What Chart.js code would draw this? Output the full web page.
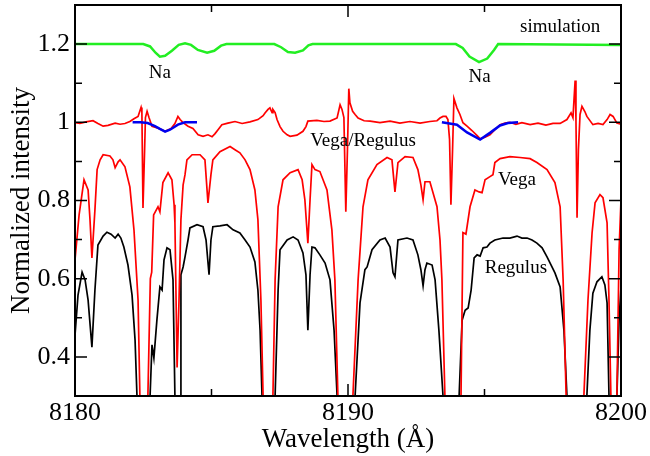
<!DOCTYPE html>
<html>
<head>
<meta charset="utf-8">
<script src="https://cdn.jsdelivr.net/npm/chart.js@4.4.1/dist/chart.umd.min.js"></script>
<style>
  html, body { margin: 0; padding: 0; background: #fff; }
  #wrap { width: 650px; height: 456px; }
</style>
</head>
<body>
<div id="wrap"><canvas id="spectrum"></canvas></div>
<script>
// simulation (green)
const simWl = [8180, 8182.5, 8182.75, 8182.95, 8183.11, 8183.3, 8183.55, 8183.8, 8184.03, 8184.25, 8184.5, 8184.84, 8185.1, 8185.35, 8185.55,
  8187.3, 8187.55, 8187.8, 8188.06, 8188.35, 8188.55, 8188.7, 8193.95, 8194.2, 8194.45, 8194.8, 8195.1, 8195.35, 8195.5, 8200];
const simI = [1.2, 1.2, 1.194, 1.178, 1.168, 1.17, 1.183, 1.198, 1.202, 1.198, 1.185, 1.178, 1.183, 1.196, 1.2,
  1.2, 1.192, 1.18, 1.178, 1.184, 1.197, 1.2, 1.2, 1.19, 1.168, 1.154, 1.163, 1.185, 1.2, 1.198];

// Vega/Regulus ratio (red, top)
const ratioWl = [8180, 8180.18, 8180.4, 8180.66, 8180.84, 8181.03, 8181.21, 8181.47, 8181.65, 8181.83, 8182.01, 8182.16, 8182.31, 8182.42, 8182.45, 8182.49, 8182.55, 8182.58, 8182.64, 8182.71, 8182.82, 8183.04, 8183.3, 8183.52, 8183.66, 8183.77, 8183.85, 8183.96, 8184.14, 8184.32, 8184.51, 8184.69, 8184.87, 8185.02, 8185.13, 8185.24, 8185.38, 8185.6, 8185.86, 8186.12, 8186.41, 8186.7, 8186.89, 8186.96, 8187.07, 8187.14, 8187.22, 8187.25, 8187.33, 8187.4, 8187.51, 8187.62, 8187.77, 8187.88, 8188.13, 8188.35, 8188.46, 8188.53, 8188.86, 8189.12, 8189.34, 8189.6, 8189.71, 8189.78, 8189.85, 8189.92, 8189.98, 8190.03, 8190.07, 8190.17, 8190.26, 8190.37, 8190.59, 8190.81, 8191.17, 8191.54, 8191.9, 8192.27, 8192.64, 8193, 8193.26, 8193.37, 8193.48, 8193.59, 8193.66, 8193.72, 8193.77, 8193.83, 8193.88, 8193.99, 8194.1, 8194.21, 8194.36, 8194.54, 8194.73, 8194.84, 8195.02, 8195.2, 8195.38, 8195.57, 8195.75, 8195.93, 8196.15, 8196.37, 8196.67, 8196.96, 8197.25, 8197.51, 8197.77, 8198.02, 8198.17, 8198.24, 8198.32, 8198.35, 8198.39, 8198.44, 8198.5, 8198.57, 8198.68, 8198.75, 8198.97, 8199.16, 8199.34, 8199.49, 8199.6, 8199.71, 8199.85, 8200];
const ratioI = [0.999, 0.997, 1.001, 1.004, 0.997, 0.99, 0.992, 0.998, 0.995, 0.997, 1.002, 1.009, 1.015, 1.038, 1.027, 0.781, 0.93, 1.012, 1.028, 1.012, 0.99, 0.985, 0.977, 0.984, 0.997, 1.015, 1.007, 0.999, 0.99, 0.984, 0.968, 0.964, 0.968, 0.963, 0.971, 0.981, 0.994, 0.998, 1.002, 0.997, 1.001, 1.007, 1.017, 1.024, 1.033, 1.037, 1.025, 1.033, 1.025, 1.007, 0.989, 0.977, 0.968, 0.964, 0.967, 0.977, 0.989, 1.003, 1.005, 1.002, 1.003, 1.011, 1.045, 1.033, 1.012, 0.771, 0.93, 1.086, 1.05, 1.028, 1.02, 1.011, 1.004, 1.003, 0.999, 1.003, 0.998, 1.002, 0.998, 1.002, 1.004, 1.011, 1.015, 1.015, 1.007, 0.956, 0.789, 0.93, 1.061, 1.037, 1.02, 0.999, 0.99, 0.979, 0.966, 0.958, 0.962, 0.968, 0.981, 0.994, 0.998, 1.0, 0.995, 0.999, 0.994, 0.998, 0.993, 0.997, 0.997, 1.007, 1.024, 1.012, 1.107, 1.007, 0.756, 0.93, 1.02, 1.041, 1.027, 1.015, 0.994, 0.997, 0.994, 1.007, 1.02, 1.015, 0.998, 0.995];

// Na fits (blue)
const fit1Wl = [8182.11, 8182.4, 8182.66, 8182.93, 8183.11, 8183.3, 8183.48, 8183.77, 8184.03, 8184.47];
const fit1I = [1.0, 1.0, 0.998, 0.99, 0.983, 0.976, 0.981, 0.994, 1.0, 1.0];
const fit2Wl = [8193.44, 8193.99, 8194.36, 8194.84, 8195.2, 8195.57, 8195.86, 8196.23];
const fit2I = [1.0, 0.994, 0.974, 0.956, 0.973, 0.992, 0.998, 1.0];

// Vega (red)
const vegaWl = [8180, 8180.15, 8180.33, 8180.48, 8180.55, 8180.62, 8180.73, 8180.81, 8180.92, 8181.03, 8181.28, 8181.39, 8181.47, 8181.58, 8181.65, 8181.83, 8182.01, 8182.16, 8182.31, 8182.38, 8182.5, 8182.67, 8182.76, 8182.81, 8182.88, 8183.04, 8183.11, 8183.22, 8183.41, 8183.55, 8183.63, 8183.66, 8183.74, 8183.81, 8183.88, 8183.96, 8184.03, 8184.1, 8184.29, 8184.58, 8184.76, 8184.87, 8184.98, 8185.05, 8185.31, 8185.68, 8185.86, 8186.04, 8186.23, 8186.41, 8186.59, 8186.7, 8186.81, 8186.89, 8187.07, 8187.25, 8187.33, 8187.44, 8187.62, 8187.88, 8188.17, 8188.32, 8188.42, 8188.53, 8188.61, 8188.68, 8188.79, 8188.97, 8189.23, 8189.41, 8189.52, 8189.63, 8189.93, 8190.18, 8190.37, 8190.55, 8190.73, 8191.06, 8191.43, 8191.61, 8191.72, 8191.83, 8192.09, 8192.38, 8192.56, 8192.67, 8192.75, 8192.82, 8193, 8193.26, 8193.37, 8193.44, 8193.55, 8193.81, 8194.14, 8194.21, 8194.32, 8194.47, 8194.65, 8194.8, 8194.91, 8195.02, 8195.2, 8195.31, 8195.38, 8195.57, 8195.93, 8196.3, 8196.67, 8196.92, 8197.29, 8197.58, 8197.77, 8197.88, 8197.99, 8198.32, 8198.64, 8198.79, 8198.94, 8199.05, 8199.23, 8199.34, 8199.49, 8199.56, 8199.63, 8199.74, 8199.85, 8199.93, 8200];
const vegaI = [0.648, 0.763, 0.853, 0.827, 0.75, 0.653, 0.776, 0.879, 0.904, 0.917, 0.914, 0.904, 0.884, 0.899, 0.904, 0.886, 0.835, 0.725, 0.545, 0.29, 0.15, 0.3, 0.6, 0.617, 0.763, 0.784, 0.771, 0.846, 0.871, 0.853, 0.789, 0.743, 0.373, 0.545, 0.751, 0.84, 0.866, 0.904, 0.917, 0.917, 0.904, 0.794, 0.866, 0.904, 0.925, 0.938, 0.93, 0.922, 0.904, 0.879, 0.827, 0.751, 0.545, 0.3, 0.15, 0.3, 0.597, 0.784, 0.853, 0.871, 0.879, 0.853, 0.802, 0.691, 0.802, 0.892, 0.879, 0.874, 0.827, 0.725, 0.597, 0.3, 0.15, 0.3, 0.597, 0.784, 0.853, 0.892, 0.91, 0.904, 0.822, 0.897, 0.912, 0.91, 0.879, 0.84, 0.802, 0.848, 0.848, 0.784, 0.699, 0.597, 0.3, 0.15, 0.3, 0.718, 0.714, 0.784, 0.827, 0.822, 0.82, 0.853, 0.861, 0.866, 0.897, 0.907, 0.912, 0.91, 0.907, 0.897, 0.879, 0.846, 0.784, 0.597, 0.3, 0.15, 0.3, 0.545, 0.717, 0.794, 0.815, 0.807, 0.743, 0.545, 0.3, 0.15, 0.3, 0.674, 0.802];

// Regulus (black)
const regWl = [8180, 8180.11, 8180.26, 8180.37, 8180.48, 8180.62, 8180.73, 8180.84, 8181.03, 8181.17, 8181.32, 8181.47, 8181.58, 8181.68, 8181.79, 8181.94, 8182.09, 8182.2, 8182.27, 8182.5, 8182.75, 8182.82, 8182.89, 8183, 8183.11, 8183.19, 8183.26, 8183.37, 8183.48, 8183.59, 8183.66, 8183.75, 8183.85, 8183.88, 8183.96, 8184.03, 8184.14, 8184.21, 8184.47, 8184.69, 8184.8, 8184.91, 8184.98, 8185.05, 8185.31, 8185.57, 8185.79, 8186.04, 8186.23, 8186.41, 8186.59, 8186.7, 8186.78, 8186.85, 8187.07, 8187.33, 8187.44, 8187.51, 8187.77, 8187.99, 8188.17, 8188.35, 8188.46, 8188.53, 8188.61, 8188.68, 8188.79, 8188.97, 8189.16, 8189.34, 8189.49, 8189.6, 8189.93, 8190.26, 8190.44, 8190.62, 8190.7, 8190.88, 8191.17, 8191.36, 8191.54, 8191.65, 8191.72, 8191.83, 8192.16, 8192.38, 8192.56, 8192.67, 8192.75, 8192.82, 8192.89, 8193.08, 8193.19, 8193.33, 8193.48, 8193.77, 8194.07, 8194.18, 8194.29, 8194.4, 8194.51, 8194.62, 8194.73, 8194.84, 8194.95, 8195.09, 8195.2, 8195.38, 8195.68, 8195.93, 8196.19, 8196.37, 8196.56, 8196.74, 8196.92, 8197.11, 8197.29, 8197.44, 8197.58, 8197.77, 8197.91, 8198.02, 8198.39, 8198.75, 8198.86, 8198.97, 8199.12, 8199.3, 8199.41, 8199.49, 8199.56, 8199.7, 8199.85, 8199.93, 8200];
const regI = [0.455, 0.558, 0.617, 0.597, 0.545, 0.425, 0.571, 0.686, 0.709, 0.719, 0.714, 0.704, 0.714, 0.704, 0.681, 0.635, 0.558, 0.443, 0.3, 0.15, 0.3, 0.431, 0.397, 0.494, 0.579, 0.571, 0.648, 0.679, 0.674, 0.597, 0.3, 0.15, 0.3, 0.61, 0.63, 0.656, 0.699, 0.73, 0.738, 0.733, 0.699, 0.61, 0.699, 0.733, 0.735, 0.738, 0.725, 0.717, 0.699, 0.681, 0.643, 0.571, 0.468, 0.3, 0.15, 0.3, 0.571, 0.674, 0.699, 0.707, 0.699, 0.666, 0.61, 0.468, 0.61, 0.681, 0.679, 0.661, 0.64, 0.597, 0.468, 0.3, 0.15, 0.3, 0.538, 0.623, 0.63, 0.674, 0.699, 0.704, 0.681, 0.615, 0.605, 0.699, 0.704, 0.699, 0.661, 0.623, 0.582, 0.623, 0.64, 0.635, 0.597, 0.468, 0.3, 0.15, 0.3, 0.494, 0.519, 0.525, 0.571, 0.653, 0.661, 0.658, 0.679, 0.681, 0.691, 0.699, 0.704, 0.704, 0.709, 0.704, 0.704, 0.699, 0.691, 0.679, 0.656, 0.635, 0.615, 0.579, 0.468, 0.3, 0.15, 0.3, 0.468, 0.563, 0.592, 0.605, 0.584, 0.538, 0.3, 0.15, 0.3, 0.494, 0.579];

// ticks
const xMajor = [8180, 8190, 8200];
const xMinor = [8185, 8195];
const yMajor = [0.4, 0.6, 0.8, 1, 1.2];
const yMinor = [0.5, 0.7, 0.9, 1.1];

// text notes on the plot
const noteText = ['simulation', 'Na', 'Na', 'Vega/Regulus', 'Vega', 'Regulus'];
const noteX = [8197.77, 8183.11, 8194.82, 8190.55, 8196.19, 8196.15];
const noteY = [1.243, 1.125, 1.115, 0.953, 0.853, 0.628];

const serif = 'Liberation Serif';

function pts(wl, vals) {
    return wl.map((w, i) => ({x: w, y: vals[i]}));
}

// frame, inward ticks on all sides, and the notes
const frameTicks = {
    id: 'frameTicks',
    afterDatasetsDraw(chart) {
        const {ctx, chartArea: a} = chart;
        const x = chart.scales.x, y = chart.scales.y;
        ctx.save();
        ctx.strokeStyle = '#000';
        ctx.lineWidth = 1.5;
        ctx.beginPath();
        const xt = (v, len) => {
            const p = x.getPixelForValue(v);
            ctx.moveTo(p, a.bottom); ctx.lineTo(p, a.bottom - len);
            ctx.moveTo(p, a.top); ctx.lineTo(p, a.top + len);
        };
        const yt = (v, len) => {
            const p = y.getPixelForValue(v);
            ctx.moveTo(a.left, p); ctx.lineTo(a.left + len, p);
            ctx.moveTo(a.right, p); ctx.lineTo(a.right - len, p);
        };
        xMajor.forEach(v => xt(v, 12));
        xMinor.forEach(v => xt(v, 7));
        yMajor.forEach(v => yt(v, 12));
        yMinor.forEach(v => yt(v, 7));
        ctx.stroke();
        ctx.lineWidth = 2;
        ctx.strokeRect(a.left, a.top, a.right - a.left, a.bottom - a.top);

        ctx.fillStyle = '#000';
        ctx.font = '19px "' + serif + '"';
        ctx.textAlign = 'center';
        ctx.textBaseline = 'middle';
        noteText.forEach((t, i) => {
            ctx.fillText(t, x.getPixelForValue(noteX[i]), y.getPixelForValue(noteY[i]));
        });
        ctx.restore();
    }
};

const ctx = document.getElementById('spectrum').getContext('2d');

new Chart(ctx, {
    type: 'line',
    data: {
        datasets: [
            {label: 'simulation', data: pts(simWl, simI), borderColor: '#22ee22', borderWidth: 2.5, order: 0},
            {label: 'Na fit 1', data: pts(fit1Wl, fit1I), borderColor: '#0000ee', borderWidth: 2.5, order: 1},
            {label: 'Na fit 2', data: pts(fit2Wl, fit2I), borderColor: '#0000ee', borderWidth: 2.5, order: 1},
            {label: 'Vega/Regulus', data: pts(ratioWl, ratioI), borderColor: '#ff0000', borderWidth: 1.7, order: 2},
            {label: 'Vega', data: pts(vegaWl, vegaI), borderColor: '#ff0000', borderWidth: 1.7, order: 3},
            {label: 'Regulus', data: pts(regWl, regI), borderColor: '#000000', borderWidth: 1.7, order: 4}
        ]
    },
    options: {
        responsive: true,
        maintainAspectRatio: false,
        animation: false,
        devicePixelRatio: 1,
        layout: {padding: {left: 0, right: 29, top: 5, bottom: 0}},
        elements: {point: {radius: 0}, line: {tension: 0}},
        scales: {
            x: {
                type: 'linear',
                min: 8180,
                max: 8200,
                afterBuildTicks: s => { s.ticks = xMajor.map(v => ({value: v})); },
                afterFit: s => { s.height = 60; s.paddingLeft = 0; s.paddingRight = 0; },
                grid: {display: false, drawTicks: false},
                border: {display: false},
                ticks: {
                    font: {family: serif, size: 26},
                    color: '#000',
                    padding: 2,
                    maxRotation: 0,
                    callback: v => String(v)
                },
                title: {display: true, text: 'Wavelength (Å)', color: '#000', font: {family: serif, size: 27}, padding: 0}
            },
            y: {
                type: 'linear',
                min: 0.3,
                max: 1.3,
                afterBuildTicks: s => { s.ticks = yMajor.map(v => ({value: v})); },
                afterFit: s => { s.width = 75; s.paddingTop = 0; s.paddingBottom = 0; },
                grid: {display: false, drawTicks: false},
                border: {display: false},
                ticks: {
                    font: {family: serif, size: 26},
                    color: '#000',
                    padding: 5,
                    callback: v => String(Math.round(v * 10) / 10)
                },
                title: {display: true, text: 'Normalized intensity', color: '#000', font: {family: serif, size: 27}, padding: 6}
            }
        },
        plugins: {
            legend: {display: false},
            tooltip: {enabled: false}
        }
    },
    plugins: [frameTicks]
});
</script>
</body>
</html>
